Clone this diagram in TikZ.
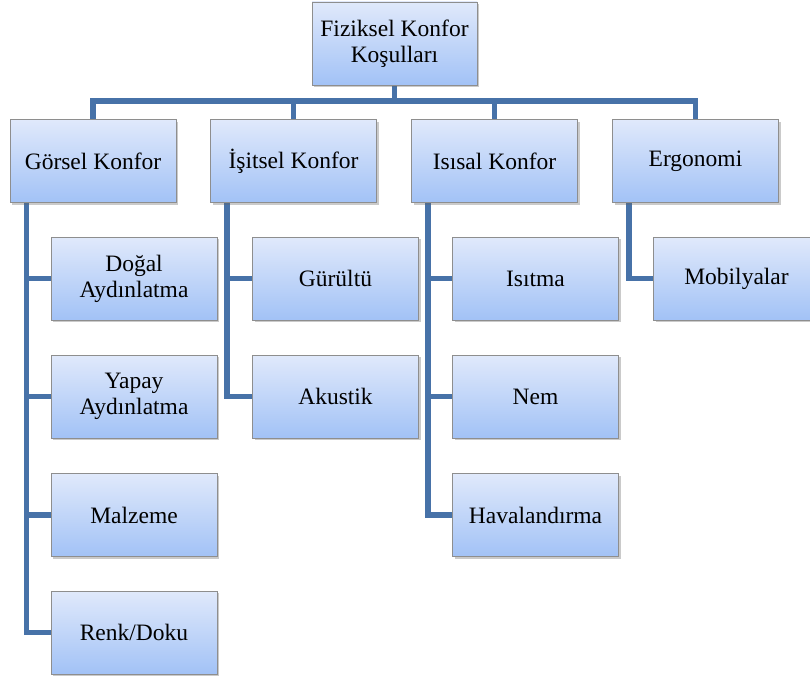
\documentclass[tikz,border=0pt]{standalone}
\usepackage{fontspec}
\setmainfont{Liberation Serif}
\usetikzlibrary{shadows,backgrounds}
\definecolor{linkblue}{HTML}{4772A8}
\definecolor{boxtop}{HTML}{E0E9FB}
\definecolor{boxbot}{HTML}{A2C2F6}
\definecolor{boxedge}{HTML}{8E8E8E}
\tikzset{
  box/.style={draw=boxedge, line width=0.8pt, top color=boxtop, bottom color=boxbot,
    minimum width=166pt, minimum height=83pt, inner sep=2pt, align=center,
    font=\fontsize{23.5}{26}\selectfont,
    drop shadow={shadow xshift=2pt, shadow yshift=-2pt, opacity=0.35, fill=black!60}},
  link/.style={draw=linkblue, line width=5.5pt}
}
\begin{document}
\begin{tikzpicture}[x=1pt,y=-1pt]
\useasboundingbox (0,0) rectangle (810,677);
\node[box, minimum width=165pt] (top) at (394.5,43.5) {Fiziksel Konfor\\Koşulları};
\node[box] (g) at (93,161) {Görsel Konfor};
\node[box] (i) at (293.5,161) {İşitsel Konfor};
\node[box] (s) at (494.5,161) {Isısal Konfor};
\node[box] (e) at (695.5,161) {Ergonomi};
\node[box] (g1) at (134,278.5) {Doğal\\Aydınlatma};
\node[box] (g2) at (134,396.5) {Yapay\\Aydınlatma};
\node[box] (g3) at (134,515) {Malzeme};
\node[box] (g4) at (134,632.5) {Renk/Doku};
\node[box] (i1) at (335.5,278.5) {Gürültü};
\node[box] (i2) at (335.5,396.5) {Akustik};
\node[box] (s1) at (535.5,278.5) {Isıtma};
\node[box] (s2) at (535.5,396.5) {Nem};
\node[box] (s3) at (535.5,515) {Havalandırma};
\node[box] (e1) at (736.5,278.5) {Mobilyalar};
\coordinate (bar) at (394.5,101);
\begin{scope}[on background layer]
\foreach \n in {g,i,s,e}{
  \draw[link] (top.south) -- (top.south |- bar) -| (\n.north);
}
\foreach \p/\c in {g/g1,g/g2,g/g3,g/g4,i/i1,i/i2,s/s1,s/s2,s/s3,e/e1}{
  \draw[link] ([xshift=17pt]\p.south west) |- (\c.west);
}
\end{scope}
\end{tikzpicture}
\end{document}
